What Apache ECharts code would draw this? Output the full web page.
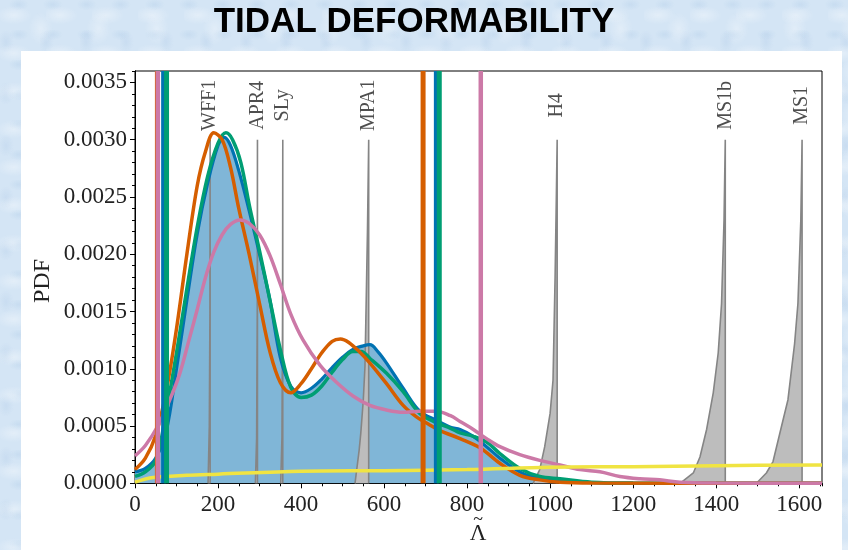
<!DOCTYPE html>
<html>
<head>
<meta charset="utf-8">
<script src="https://cdn.jsdelivr.net/npm/echarts@6/dist/echarts.min.js"></script>
<style>
  html, body { margin: 0; padding: 0; width: 848px; height: 550px; overflow: hidden; }
  body {
    background-color: #d4e5f5;
    background-image:
      radial-gradient(ellipse 18px 9px at 30% 40%, rgba(255,255,255,0.35), rgba(255,255,255,0) 100%),
      radial-gradient(ellipse 12px 16px at 70% 65%, rgba(255,255,255,0.3), rgba(255,255,255,0) 100%),
      radial-gradient(ellipse 10px 6px at 55% 15%, rgba(170,200,230,0.3), rgba(170,200,230,0) 100%),
      radial-gradient(ellipse 8px 12px at 15% 80%, rgba(180,205,232,0.35), rgba(180,205,232,0) 100%);
    background-size: 46px 38px, 58px 44px, 34px 30px, 40px 52px;
  }
  #panel { position: absolute; left: 21px; top: 51px; width: 821px; height: 499px; background: #ffffff; }
  #chart { position: absolute; left: 0; top: 0; width: 848px; height: 550px; }
</style>
</head>
<body>
<div id="panel"></div>
<div id="chart"></div>
<script>
// Posterior PDFs of the binary tidal deformability, [Lambda, PDF] pairs
const blueCurve = [[0,0.0001],[25,0.00013],[50,0.00022],[75,0.00045],[100,0.001],[125,0.0016],[150,0.00218],[175,0.00262],[200,0.00295],[215,0.00302],[230,0.00295],[250,0.00273],[275,0.00238],[300,0.002],[325,0.0016],[350,0.0011],[375,0.00085],[400,0.00079],[425,0.00083],[450,0.00091],[475,0.00101],[500,0.0011],[525,0.00117],[550,0.0012],[566,0.00121],[585,0.00115],[606,0.00105],[646,0.00083],[686,0.00063],[726,0.00055],[760,0.00049],[783,0.00047],[815,0.00041],[847,0.00032],[879,0.00022],[927,0.0001],[975,0.00004],[1024,0.00002],[1100,0.000005],[1200,0.000001],[1655,0]];
const greenCurve = [[0,0.00006],[25,0.0001],[50,0.0002],[75,0.00062],[100,0.00114],[125,0.0017],[150,0.00224],[175,0.00268],[200,0.00297],[219,0.00306],[235,0.003],[255,0.0028],[277,0.0024],[300,0.00203],[325,0.0016],[350,0.00117],[375,0.00084],[400,0.00075],[425,0.00077],[450,0.00085],[475,0.00097],[500,0.00108],[525,0.00115],[545,0.00115],[566,0.00109],[606,0.00096],[646,0.0008],[686,0.00061],[726,0.00053],[760,0.00048],[783,0.00044],[815,0.00041],[847,0.00036],[879,0.00026],[927,0.00013],[975,0.00006],[1024,0.00004],[1100,0.00001],[1200,0.000002],[1655,0]];
const orangeCurve = [[0,0.00012],[25,0.00022],[50,0.00042],[75,0.0008],[100,0.00135],[125,0.002],[150,0.0026],[170,0.0029],[190,0.00306],[210,0.003],[230,0.00276],[250,0.0024],[275,0.002],[300,0.00157],[325,0.00115],[350,0.00088],[375,0.00079],[400,0.00087],[425,0.001],[450,0.00114],[475,0.00124],[495,0.00126],[515,0.00123],[540,0.00115],[566,0.00105],[606,0.00087],[646,0.00068],[678,0.00058],[710,0.00051],[735,0.00046],[783,0.00039],[831,0.00031],[879,0.000175],[927,0.00007],[975,0.00003],[1024,0.00001],[1100,0.000003],[1655,0]];
const pinkCurve = [[0,0.00024],[25,0.00033],[55,0.0005],[84,0.00073],[108,0.00096],[130,0.00125],[150,0.00152],[170,0.0018],[190,0.00202],[210,0.00217],[230,0.00226],[253,0.0023],[275,0.00227],[300,0.00217],[325,0.00199],[350,0.00174],[375,0.00148],[405,0.00125],[446,0.00103],[486,0.00088],[526,0.00076],[566,0.00068],[606,0.00064],[646,0.00062],[686,0.00063],[726,0.00063],[760,0.00059],[783,0.00054],[815,0.00047],[847,0.00039],[879,0.00032],[927,0.00025],[975,0.0002],[1024,0.00016],[1072,0.00012],[1120,0.0001],[1168,0.00006],[1216,0.00004],[1264,0.00003],[1313,0.00001],[1400,0.000003],[1655,0]];
const yellowCurve = [[0,0.00001],[44,0.00005],[124,0.00007],[200,0.00008],[400,0.000105],[600,0.00011],[800,0.00012],[1000,0.00014],[1200,0.000145],[1400,0.000154],[1655,0.00016]];

// 90% credible bounds [lower, upper]
const boundsOrange = [54, 694];
const boundsBlue = [69, 726];
const boundsGreen = [76, 733];
const boundsPink = [55, 833];

// Equation-of-state predictions
const eosNames = ['WFF1', 'APR4', 'SLy', 'MPA1', 'H4', 'MS1b', 'MS1'];
const eosPeaks = [181, 295, 356, 563, 1017, 1422, 1607];
const eosWFF1 = [[176,0],[179,0.0005],[180.5,0.0015],[181,0.003],[181,0]];
const eosAPR4 = [[290,0],[293,0.0004],[294.5,0.0015],[295,0.003],[295,0]];
const eosSLy  = [[351,0],[354,0.0004],[355.5,0.0015],[356,0.003],[356,0]];
const eosMPA1 = [[530,0],[540,0.00029],[544,0.00044],[550,0.00073],[554,0.00102],[557,0.0016],[560,0.0022],[563,0.003],[563,0]];
const eosH4   = [[959,0],[975,0.00012],[987,0.00032],[1000,0.00061],[1007,0.0009],[1012,0.0018],[1015,0.0025],[1017,0.003],[1017,0]];
const eosMS1b = [[1313,0],[1345,0.00009],[1361,0.00023],[1377,0.00047],[1393,0.00079],[1405,0.00114],[1413,0.00157],[1419,0.0023],[1422,0.003],[1422,0]];
const eosMS1  = [[1497,0],[1521,0.00009],[1537,0.00019],[1553,0.00043],[1573,0.00073],[1589,0.00122],[1597,0.00157],[1604,0.0023],[1607,0.003],[1607,0]];
const eosShapes = [eosWFF1, eosAPR4, eosSLy, eosMPA1, eosH4, eosMS1b, eosMS1];
const eosLabelLevel = 0.0033;

// Axis ranges and tick spacing
const xRange = [0, 1655];
const yRange = [0, 0.0036];
const xMajor = 200, xMinor = 50;
const yMajor = 0.0005, yMinor = 0.0001;

const C = {
  blue: '#0072B2', blueFill: '#80b6d7', green: '#009E73',
  orange: '#D55E00', pink: '#CC79A7', yellow: '#F0E442'
};
const SERIF = '"Liberation Serif", "DejaVu Serif", serif';

const chart = echarts.init(document.getElementById('chart'), null, { renderer: 'canvas' });

function curve(data, color, width, z, extra) {
  return Object.assign({
    type: 'line', data: data, smooth: 0.35, showSymbol: false, symbol: 'none',
    lineStyle: { color: color, width: width }, z: z, silent: true
  }, extra || {});
}
function vline(x, color, width, z) {
  return {
    type: 'line', data: [[x, yRange[0]], [x, yRange[1]]], showSymbol: false, symbol: 'none',
    lineStyle: { color: color, width: width }, z: z, silent: true
  };
}

const series = [];
// filled posterior (area only, drawn beneath the EOS shapes)
series.push(curve(blueCurve, C.blue, 0, 1, { areaStyle: { color: C.blueFill, opacity: 1 }, lineStyle: { width: 0, opacity: 0 } }));
// EOS shapes
eosShapes.forEach(function (d) {
  series.push({
    type: 'line', data: d, smooth: false, showSymbol: false, symbol: 'none',
    lineStyle: { color: '#858585', width: 1.6 },
    areaStyle: { color: '#bdbdbd', opacity: 1 }, z: 2, silent: true
  });
});
series.push(curve(blueCurve, C.blue, 3.2, 3));
series.push(curve(greenCurve, C.green, 3.5, 4));
series.push(curve(orangeCurve, C.orange, 3.5, 5));
series.push(curve(pinkCurve, C.pink, 3.5, 6));
series.push(curve(yellowCurve, C.yellow, 3.5, 7));
// credible bounds
[boundsOrange, boundsBlue, boundsGreen, boundsPink].forEach(function (b, i) {
  const col = [C.orange, C.blue, C.green, C.pink][i];
  const w = i === 3 ? 4.5 : 5;
  b.forEach(function (x) { series.push(vline(x, col, w, 8 + i)); });
});
// EOS names
series.push({
  type: 'scatter', symbolSize: 2, itemStyle: { color: 'rgba(0,0,0,0)' }, z: 12, silent: true,
  data: eosPeaks.map(function (x, i) { return { name: eosNames[i], value: [x, eosLabelLevel] }; }),
  label: {
    show: true, formatter: '{b}', rotate: 90, position: 'inside',
    align: 'center', verticalAlign: 'middle',
    fontFamily: SERIF, fontSize: 20, color: '#222'
  },
  labelLayout: { hideOverlap: false }
});

const axisTextStyle = { fontFamily: SERIF, fontSize: 23, color: '#222' };

chart.setOption({
  animation: false,
  grid: { left: 135, top: 71, right: 26, bottom: 66.7, show: true, borderColor: '#000', borderWidth: 1, backgroundColor: 'transparent' },
  xAxis: [
    {
      type: 'value', min: xRange[0], max: xRange[1], interval: xMajor, position: 'bottom',
      axisLine: { show: true, onZero: false, lineStyle: { color: '#000', width: 1 } },
      axisTick: { show: true, inside: false, length: 5, lineStyle: { color: '#000', width: 1 } },
      axisLabel: Object.assign({ margin: 10, showMaxLabel: false, formatter: function (v) { return String(v); } }, axisTextStyle),
      splitLine: { show: false }
    },
    {
      type: 'value', min: xRange[0], max: xRange[1], interval: xMinor, position: 'bottom', offset: 0,
      axisLine: { show: true, onZero: false, lineStyle: { color: '#000', width: 1 } },
      axisTick: { show: true, inside: false, length: 3, lineStyle: { color: '#000', width: 1 } },
      axisLabel: { show: false }, splitLine: { show: false }
    }
  ],
  yAxis: [
    {
      type: 'value', min: yRange[0], max: yRange[1], interval: yMajor, position: 'left',
      axisLine: { show: true, onZero: false, lineStyle: { color: '#000', width: 1 } },
      axisTick: { show: true, inside: false, length: 5, lineStyle: { color: '#000', width: 1 } },
      axisLabel: Object.assign({ margin: 8, showMaxLabel: false, formatter: function (v) { return v.toFixed(4); } }, axisTextStyle),
      splitLine: { show: false }
    },
    {
      type: 'value', min: yRange[0], max: yRange[1], interval: yMinor, position: 'left', offset: 0,
      axisLine: { show: true, onZero: false, lineStyle: { color: '#000', width: 1 } },
      axisTick: { show: true, inside: false, length: 3, lineStyle: { color: '#000', width: 1 } },
      axisLabel: { show: false }, splitLine: { show: false }
    }
  ],
  graphic: [
    { type: 'text', x: 414, y: 22, style: { text: 'TIDAL DEFORMABILITY', font: 'bold 35px "Liberation Sans", Arial, sans-serif', fill: '#000', align: 'center', verticalAlign: 'middle' } },
    { type: 'text', x: 43, y: 281, rotation: Math.PI / 2, style: { text: 'PDF', font: '24px ' + SERIF, fill: '#222', align: 'center', verticalAlign: 'middle' } },
    { type: 'text', x: 478, y: 534, style: { text: 'Λ', font: '23px ' + SERIF, fill: '#222', align: 'center', verticalAlign: 'middle' } },
    { type: 'text', x: 478, y: 520, style: { text: '~', font: '18px ' + SERIF, fill: '#222', align: 'center', verticalAlign: 'middle' } }
  ],
  series: series
});
</script>
</body>
</html>
